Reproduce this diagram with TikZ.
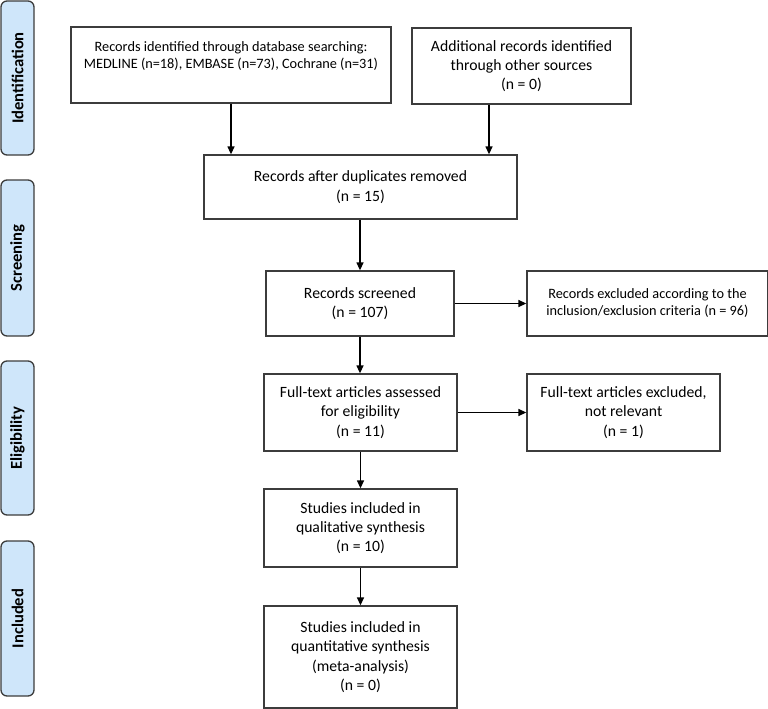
\documentclass[tikz,border=0pt]{standalone}
\usepackage{fontspec}
\setmainfont{Carlito}
\usetikzlibrary{arrows.meta,positioning,calc}
\definecolor{sidefill}{HTML}{CFE6FA}
\definecolor{edge}{HTML}{3C3C3C}
\begin{document}
\begin{tikzpicture}[x=1pt,y=-1pt,
  box/.style={draw=edge,line width=1.3pt,fill=white,inner sep=0pt,align=center,
    font=\fontsize{15.7}{19.3}\selectfont},
  small/.style={font=\fontsize{14.3}{17}\selectfont},
  side/.style={draw=edge,line width=1.3pt,fill=sidefill,rounded corners=6pt},
  sidetext/.style={rotate=90,font=\fontsize{16.6}{18}\selectfont\bfseries},
  arr/.style={line width=1.3pt,-{Triangle[length=8pt,width=7pt]}}]
\useasboundingbox (0,0) rectangle (768,709);
% side labels
\draw[side] (1,1) rectangle (34,155);
\node[sidetext] (sid) at (17.5,78) {Identification};
\draw[side] (1,180) rectangle (34,336);
\node[sidetext] (sscr) at (17.5,258) {Screening};
\draw[side] (1,361) rectangle (34,515);
\node[sidetext] (selig) at (17.5,438) {Eligibility};
\draw[side] (1,541) rectangle (34,696);
\node[sidetext] (sinc) at (17.5,618.5) {Included};
% boxes
\node[box,minimum width=320pt,minimum height=76pt] (A) at (231,65) {};
\node[small,align=center,inner sep=0pt] (Atext) at (231,56) {Records identified through database searching:\\MEDLINE (n=18), EMBASE (n=73), Cochrane (n=31)};
\node[box,minimum width=219pt,minimum height=76pt] (B) at (521.5,66) {Additional records identified\\through other sources\\(n = 0)};
\node[box,minimum width=313pt,minimum height=64pt] (C) at (360.5,187) {Records after duplicates removed\\(n = 15)};
\node[box,minimum width=188pt,minimum height=65pt] (D) at (360,303.5) {Records screened\\(n = 107)};
\node[box,small,minimum width=241pt,minimum height=65pt] (E) at (647.5,303.5) {Records excluded according to the\\inclusion/exclusion criteria (n = 96)};
\node[box,minimum width=193pt,minimum height=77pt] (F) at (360.5,412.5) {Full-text articles assessed\\for eligibility\\(n = 11)};
\node[box,minimum width=193pt,minimum height=77pt] (G) at (623.5,412.5) {Full-text articles excluded,\\not relevant\\(n = 1)};
\node[box,minimum width=193pt,minimum height=78pt] (H) at (360.5,528) {Studies included in\\qualitative synthesis\\(n = 10)};
\node[box,minimum width=193pt,minimum height=102pt] (I) at (360.5,657) {Studies included in\\quantitative synthesis\\(meta-analysis)\\(n = 0)};
% arrows
\draw[arr] (A.south) -- (A.south |- C.north);
\draw[arr] ([xshift=-32.5pt]B.south) -- ([xshift=-32.5pt]B.south |- C.north);
\draw[arr] (C.south -| D.north) -- (D.north);
\draw[arr] (D.east) -- (E.west);
\draw[arr] (D.south) -- (D.south |- F.north);
\draw[arr] (F.east) -- (G.west);
\draw[arr] (F.south) -- (H.north);
\draw[arr] (H.south) -- (I.north);
\end{tikzpicture}
\end{document}
